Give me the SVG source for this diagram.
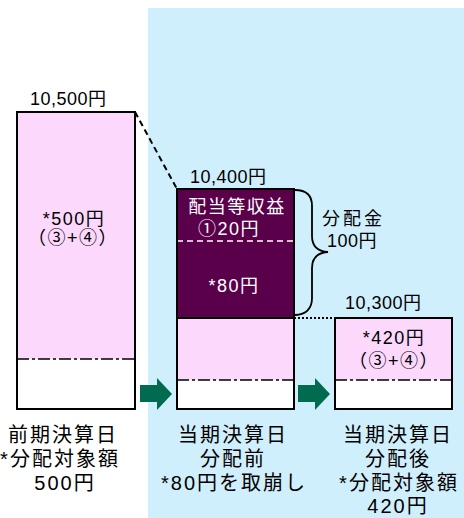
<svg xmlns="http://www.w3.org/2000/svg" width="464" height="518" viewBox="0 0 464 518">
<style>
text{font-family:"Liberation Sans","Noto Sans CJK JP",sans-serif;fill:#000}
.n{font-size:18px;letter-spacing:0.5px}
.b{font-size:20px;letter-spacing:2px;text-anchor:middle}
.w{fill:#fff;font-size:18px;letter-spacing:1.5px;text-anchor:middle}
.c{font-size:18px;letter-spacing:1.5px;text-anchor:middle}
.box{stroke:#000;stroke-width:2}
.dd{stroke:#000;stroke-width:1.5;stroke-dasharray:12 3 3 3;fill:none}
.arr{fill:#006B4F}
</style>
<rect x="148" y="8" width="316" height="510" fill="#D0EFFC"/>
<g id="connectors">
<line x1="135" y1="112" x2="177" y2="189" stroke="#000" stroke-width="2" stroke-dasharray="6 4"/>
<line x1="294" y1="318" x2="335" y2="318" stroke="#000" stroke-width="2" stroke-dasharray="2 2"/>
<path d="M295,190 Q312,190 312,206 L312,236 Q312,251 328,252 Q312,253 312,268 L312,298 Q312,314 295,315" fill="none" stroke="#000" stroke-width="1.8"/>
<polygon class="arr" points="140,385 157,385 157,378 172,394 157,410 157,402 140,402"/>
<polygon class="arr" points="298,385 315,385 315,378 330,394 315,410 315,402 298,402"/>
</g>
<g id="prev">
<rect x="17" y="112" width="118" height="247" fill="#FCD8FC"/>
<rect x="17" y="359" width="118" height="50" fill="#fff"/>
<line x1="17" y1="359" x2="135" y2="359" class="dd"/>
<rect x="17" y="112" width="118" height="297" fill="none" class="box"/>
<text class="n" x="30" y="105">10,500円</text>
<text class="c" x="74" y="225">*500円</text>
<text class="c" x="73" y="244">（③+④）</text>
<text class="b" x="63" y="442">前期決算日</text>
<text class="b" x="60" y="466">*分配対象額</text>
<text class="b" x="65" y="490">500円</text>
</g>
<g id="before">
<rect x="177" y="189" width="117" height="129" fill="#5A004B"/>
<rect x="177" y="318" width="117" height="62" fill="#FCD8FC"/>
<rect x="177" y="380" width="117" height="29" fill="#fff"/>
<line x1="177" y1="241" x2="294" y2="241" stroke="#fff" stroke-width="1.5" stroke-dasharray="6 4"/>
<line x1="177" y1="380" x2="294" y2="380" class="dd"/>
<line x1="177" y1="318" x2="294" y2="318" stroke="#000" stroke-width="2"/>
<rect x="177" y="189" width="117" height="220" fill="none" class="box"/>
<text class="n" x="190" y="183">10,400円</text>
<text class="w" x="237" y="213">配当等収益</text>
<text class="w" x="229" y="235">①20円</text>
<text class="w" x="234" y="292">*80円</text>
<text class="b" x="233" y="442">当期決算日</text>
<text class="b" x="233" y="466">分配前</text>
<text class="b" x="234" y="490">*80円を取崩し</text>
</g>
<g id="dist">
<text class="n" x="322" y="225" style="letter-spacing:3px">分配金</text>
<text class="n" x="327" y="247">100円</text>
</g>
<g id="after">
<rect x="335" y="318" width="117" height="62" fill="#FCD8FC"/>
<rect x="335" y="380" width="117" height="29" fill="#fff"/>
<line x1="335" y1="380" x2="452" y2="380" class="dd"/>
<rect x="335" y="318" width="117" height="91" fill="none" class="box"/>
<text class="n" x="345" y="309">10,300円</text>
<text class="c" x="394" y="344">*420円</text>
<text class="c" x="394" y="367">（③+④）</text>
<text class="b" x="398" y="442">当期決算日</text>
<text class="b" x="398" y="466">分配後</text>
<text class="b" x="399" y="490">*分配対象額</text>
<text class="b" x="398" y="513">420円</text>
</g>
</svg>
